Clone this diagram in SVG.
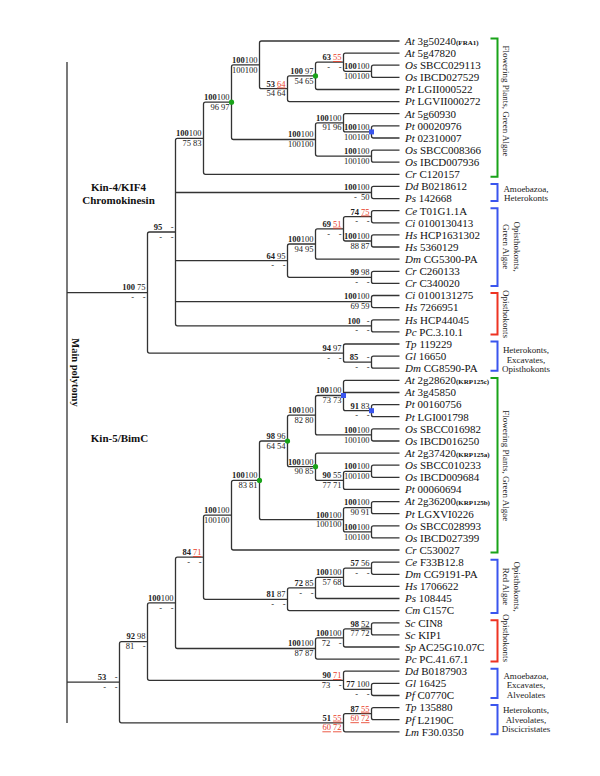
<svg xmlns="http://www.w3.org/2000/svg" width="600" height="776" viewBox="0 0 600 776">
<style>
.br{fill:none;stroke:#333;stroke-width:1.3;stroke-linecap:butt}
.lf{font-family:"Liberation Serif","Times New Roman",serif;font-size:11px;fill:#111}
.g{font-style:italic}
.kb{font-size:7px;font-weight:bold}
.sp{font-family:"Liberation Serif","Times New Roman",serif;font-size:8.5px;fill:#222;text-anchor:end}
.b{font-weight:bold}
.r{fill:#e8402a;text-decoration:underline}
.u{text-decoration:underline}
.cl{font-family:"Liberation Serif","Times New Roman",serif;font-size:9px;fill:#222}
.cm{text-anchor:middle}
.hd{font-family:"Liberation Serif","Times New Roman",serif;font-size:11px;font-weight:bold;fill:#111;text-anchor:middle}
.gn{fill:none;stroke:#19a319;stroke-width:2}
.bl{fill:none;stroke:#3a55ee;stroke-width:2}
.rd{fill:none;stroke:#ee3322;stroke-width:2}
.gd{fill:#19a319}
.bd{fill:#3a55ee}
</style>
<rect width="600" height="776" fill="#fff"/>

<g id="connectors">
<path class="br" d="M67 62V723M67 292.6H147.5M67 682.2H119.5"/>
<path class="br" d="M399.5 65.2H373.5Q371.5 65.2 371.5 67.2V75.4Q371.5 77.4 373.5 77.4H399.5"/>
<path class="br" d="M399.5 53.1H345.5Q343.5 53.1 343.5 55.1V69.3Q343.5 71.3 345.5 71.3H371.5"/>
<path class="br" d="M343.5 62.2H317.5Q315.5 62.2 315.5 64.2V87.5Q315.5 89.5 317.5 89.5H399.5"/>
<path class="br" d="M315.5 75.9H289.5Q287.5 75.9 287.5 77.9V99.6Q287.5 101.6 289.5 101.6H399.5"/>
<path class="br" d="M399.5 41H261.5Q259.5 41 259.5 43V86.7Q259.5 88.7 261.5 88.7H287.5"/>
<path class="br" d="M399.5 125.8H373.5Q371.5 125.8 371.5 127.8V136Q371.5 138 373.5 138H399.5"/>
<path class="br" d="M399.5 113.7H345.5Q343.5 113.7 343.5 115.7V129.9Q343.5 131.9 345.5 131.9H371.5"/>
<path class="br" d="M399.5 150.1H373.5Q371.5 150.1 371.5 152.1V160.2Q371.5 162.2 373.5 162.2H399.5"/>
<path class="br" d="M343.5 122.8H317.5Q315.5 122.8 315.5 124.8V154.1Q315.5 156.1 317.5 156.1H371.5"/>
<path class="br" d="M259.5 64.9H233.5Q231.5 64.9 231.5 66.9V137.5Q231.5 139.5 233.5 139.5H315.5"/>
<path class="br" d="M231.5 102.2H205.5Q203.5 102.2 203.5 104.2V172.3Q203.5 174.3 205.5 174.3H399.5"/>
<path class="br" d="M399.5 186.4H373.5Q371.5 186.4 371.5 188.4V196.6Q371.5 198.6 373.5 198.6H399.5"/>
<path class="br" d="M399.5 210.7H373.5Q371.5 210.7 371.5 212.7V220.8Q371.5 222.8 373.5 222.8H399.5"/>
<path class="br" d="M399.5 234.9H373.5Q371.5 234.9 371.5 236.9V245Q371.5 247 373.5 247H399.5"/>
<path class="br" d="M371.5 216.7H345.5Q343.5 216.7 343.5 218.7V239Q343.5 241 345.5 241H371.5"/>
<path class="br" d="M343.5 228.9H317.5Q315.5 228.9 315.5 230.9V257.2Q315.5 259.2 317.5 259.2H399.5"/>
<path class="br" d="M399.5 271.3H373.5Q371.5 271.3 371.5 273.3V281.4Q371.5 283.4 373.5 283.4H399.5"/>
<path class="br" d="M315.5 244H289.5Q287.5 244 287.5 246V275.3Q287.5 277.3 289.5 277.3H371.5"/>
<path class="br" d="M399.5 295.5H373.5Q371.5 295.5 371.5 297.5V305.6Q371.5 307.6 373.5 307.6H399.5"/>
<path class="br" d="M399.5 319.8H373.5Q371.5 319.8 371.5 321.8V329.9Q371.5 331.9 373.5 331.9H399.5"/>
<path class="br" d="M203.5 138.3H177.5Q175.5 138.3 175.5 140.3V323.8Q175.5 325.8 177.5 325.8H371.5M175.5 192.5H371.5M175.5 260.7H287.5M175.5 301.6H371.5"/>
<path class="br" d="M399.5 356.1H373.5Q371.5 356.1 371.5 358.1V366.2Q371.5 368.2 373.5 368.2H399.5"/>
<path class="br" d="M399.5 344H345.5Q343.5 344 343.5 346V360.2Q343.5 362.2 345.5 362.2H371.5"/>
<path class="br" d="M175.5 232H149.5Q147.5 232 147.5 234V351.1Q147.5 353.1 149.5 353.1H343.5"/>
<path class="br" d="M399.5 380.4H345.5Q343.5 380.4 343.5 382.4V408.7Q343.5 410.7 345.5 410.7H371.5M343.5 392.5H399.5"/>
<path class="br" d="M399.5 404.6H373.5Q371.5 404.6 371.5 406.6V414.7Q371.5 416.7 373.5 416.7H399.5"/>
<path class="br" d="M399.5 428.8H373.5Q371.5 428.8 371.5 430.8V439Q371.5 441 373.5 441H399.5"/>
<path class="br" d="M343.5 395.5H317.5Q315.5 395.5 315.5 397.5V432.9Q315.5 434.9 317.5 434.9H371.5"/>
<path class="br" d="M399.5 465.2H373.5Q371.5 465.2 371.5 467.2V475.3Q371.5 477.3 373.5 477.3H399.5"/>
<path class="br" d="M371.5 471.3H345.5Q343.5 471.3 343.5 473.3V487.4Q343.5 489.4 345.5 489.4H399.5"/>
<path class="br" d="M399.5 453.1H317.5Q315.5 453.1 315.5 455.1V478.4Q315.5 480.4 317.5 480.4H343.5"/>
<path class="br" d="M315.5 415.2H289.5Q287.5 415.2 287.5 417.2V464.7Q287.5 466.7 289.5 466.7H315.5"/>
<path class="br" d="M399.5 501.6H373.5Q371.5 501.6 371.5 503.6V511.7Q371.5 513.7 373.5 513.7H399.5"/>
<path class="br" d="M399.5 525.8H373.5Q371.5 525.8 371.5 527.8V535.9Q371.5 537.9 373.5 537.9H399.5"/>
<path class="br" d="M371.5 507.6H345.5Q343.5 507.6 343.5 509.6V529.9Q343.5 531.9 345.5 531.9H371.5"/>
<path class="br" d="M287.5 441H261.5Q259.5 441 259.5 443V517.7Q259.5 519.7 261.5 519.7H343.5"/>
<path class="br" d="M259.5 480.4H233.5Q231.5 480.4 231.5 482.4V548Q231.5 550 233.5 550H399.5"/>
<path class="br" d="M399.5 562.2H373.5Q371.5 562.2 371.5 564.2V572.3Q371.5 574.3 373.5 574.3H399.5"/>
<path class="br" d="M371.5 568.2H345.5Q343.5 568.2 343.5 570.2V584.4Q343.5 586.4 345.5 586.4H399.5"/>
<path class="br" d="M343.5 577.3H317.5Q315.5 577.3 315.5 579.3V596.5Q315.5 598.5 317.5 598.5H399.5"/>
<path class="br" d="M315.5 587.9H289.5Q287.5 587.9 287.5 589.9V608.6Q287.5 610.6 289.5 610.6H399.5"/>
<path class="br" d="M231.5 515.2H205.5Q203.5 515.2 203.5 517.2V597.3Q203.5 599.3 205.5 599.3H287.5"/>
<path class="br" d="M399.5 622.8H373.5Q371.5 622.8 371.5 624.8V632.9Q371.5 634.9 373.5 634.9H399.5"/>
<path class="br" d="M371.5 628.8H345.5Q343.5 628.8 343.5 630.8V645Q343.5 647 345.5 647H399.5"/>
<path class="br" d="M343.5 637.9H317.5Q315.5 637.9 315.5 639.9V657.1Q315.5 659.1 317.5 659.1H399.5"/>
<path class="br" d="M203.5 557.2H177.5Q175.5 557.2 175.5 559.2V646.5Q175.5 648.5 177.5 648.5H315.5"/>
<path class="br" d="M399.5 683.4H373.5Q371.5 683.4 371.5 685.4V693.5Q371.5 695.5 373.5 695.5H399.5"/>
<path class="br" d="M399.5 671.2H345.5Q343.5 671.2 343.5 673.2V687.4Q343.5 689.4 345.5 689.4H371.5"/>
<path class="br" d="M175.5 602.9H149.5Q147.5 602.9 147.5 604.9V678.3Q147.5 680.3 149.5 680.3H343.5"/>
<path class="br" d="M399.5 707.6H373.5Q371.5 707.6 371.5 709.6V717.7Q371.5 719.7 373.5 719.7H399.5"/>
<path class="br" d="M371.5 713.7H345.5Q343.5 713.7 343.5 715.7V729.8Q343.5 731.8 345.5 731.8H399.5"/>
<path class="br" d="M147.5 641.6H121.5Q119.5 641.6 119.5 643.6V720.8Q119.5 722.8 121.5 722.8H343.5"/>
</g>

<g id="markers">
<circle class="gd" cx="315.5" cy="75.9" r="2.6"/>
<circle class="gd" cx="231.5" cy="102.2" r="2.6"/>
<circle class="gd" cx="287.5" cy="441" r="2.6"/>
<circle class="gd" cx="315.5" cy="466.7" r="2.6"/>
<circle class="gd" cx="259.5" cy="480.4" r="2.6"/>
<rect class="bd" x="369" y="129.4" width="5" height="5"/>
<rect class="bd" x="341" y="393" width="5" height="5"/>
<rect class="bd" x="369" y="408.2" width="5" height="5"/>
</g>

<g id="titles">
<text class="hd" x="118.5" y="191">Kin-4/KIF4</text>
<text class="hd" x="118.5" y="203.5">Chromokinesin</text>
<text class="hd" x="119.5" y="441.5">Kin-5/BimC</text>
<text class="hd" style="font-size:10.5px" transform="translate(71.5 372.5) rotate(90)">Main polytomy</text>
</g>

<g id="support-kin4">
<g id="n1"><text class="sp" x="257.5" y="62.7"><tspan class="b">100</tspan>100</text><text class="sp" x="257.5" y="72.5">100100</text></g>
<g id="n2"><text class="sp" x="285.5" y="86.5"><tspan class="b">53</tspan> <tspan class="r">64</tspan></text><text class="sp" x="285.5" y="96.3">54 64</text></g>
<g id="n3"><text class="sp" x="313.5" y="73.7"><tspan class="b">100</tspan> 97</text><text class="sp" x="313.5" y="83.5">54 65</text></g>
<g id="n4"><text class="sp" x="341.5" y="60"><tspan class="b">63</tspan> <tspan class="r">55</tspan></text><text class="sp" x="341.5" y="69.8" xml:space="preserve">-    -</text></g>
<g id="n5"><text class="sp" x="369.5" y="69.1"><tspan class="b">100</tspan>100</text><text class="sp" x="369.5" y="78.9">100100</text></g>
<g id="nC"><text class="sp" x="341.5" y="120.6"><tspan class="b">100</tspan>100</text><text class="sp" x="341.5" y="130.4">91 96</text></g>
<g id="nPt1"><text class="sp" x="369.5" y="129.7"><tspan class="b">100</tspan>100</text><text class="sp" x="369.5" y="139.5">100100</text></g>
<g id="nD"><text class="sp" x="369.5" y="153.9"><tspan class="b">100</tspan>100</text><text class="sp" x="369.5" y="163.7">100100</text></g>
<g id="n7"><text class="sp" x="313.5" y="137.3"><tspan class="b">100</tspan>100</text><text class="sp" x="313.5" y="147.1">100100</text></g>
<g id="n6"><text class="sp" x="229.5" y="100"><tspan class="b">100</tspan>100</text><text class="sp" x="229.5" y="109.8">96 97</text></g>
<g id="n8"><text class="sp" x="201.5" y="136.1"><tspan class="b">100</tspan>100</text><text class="sp" x="201.5" y="145.9">75 83</text></g>
<g id="nDdPs"><text class="sp" x="369.5" y="190.3"><tspan class="b">100</tspan>100</text><text class="sp" x="369.5" y="200.1" xml:space="preserve">-  50</text></g>
<g id="nCeCi"><text class="sp" x="369.5" y="214.5"><tspan class="b">74</tspan> <tspan class="r">75</tspan></text><text class="sp" x="369.5" y="224.3" xml:space="preserve">-    -</text></g>
<g id="n6951"><text class="sp" x="341.5" y="226.7"><tspan class="b">69</tspan> <tspan class="r">51</tspan></text><text class="sp" x="341.5" y="236.5" xml:space="preserve">-    -</text></g>
<g id="nHs1"><text class="sp" x="369.5" y="238.8"><tspan class="b">100</tspan>100</text><text class="sp" x="369.5" y="248.6">88 87</text></g>
<g id="n9495"><text class="sp" x="313.5" y="241.8"><tspan class="b">100</tspan>100</text><text class="sp" x="313.5" y="251.6">94 95</text></g>
<g id="nCr"><text class="sp" x="369.5" y="275.1"><tspan class="b">99</tspan> 98</text><text class="sp" x="369.5" y="284.9" xml:space="preserve">-    -</text></g>
<g id="n6495"><text class="sp" x="285.5" y="258.5"><tspan class="b">64</tspan> 95</text><text class="sp" x="285.5" y="268.3" xml:space="preserve">-    -</text></g>
<g id="nCiHs"><text class="sp" x="369.5" y="299.4"><tspan class="b">100</tspan>100</text><text class="sp" x="369.5" y="309.2">69 59</text></g>
<g id="nHsPc"><text class="sp" x="369.5" y="323.6" xml:space="preserve"><tspan class="b">100</tspan>   -</text><text class="sp" x="369.5" y="333.4" xml:space="preserve">-    -</text></g>
<g id="n9"><text class="sp" x="173.5" y="229.8" xml:space="preserve"><tspan class="b">95</tspan>    -</text><text class="sp" x="173.5" y="239.6" xml:space="preserve">-    -</text></g>
<g id="nGlDm"><text class="sp" x="369.5" y="360" xml:space="preserve"><tspan class="b">85</tspan>    -</text><text class="sp" x="369.5" y="369.8" xml:space="preserve">-    -</text></g>
<g id="nTp"><text class="sp" x="341.5" y="350.9"><tspan class="b">94</tspan> 97</text><text class="sp" x="341.5" y="360.7" xml:space="preserve">-    -</text></g>
<g id="n10"><text class="sp" x="145.5" y="290.4"><tspan class="b">100</tspan> 75</text><text class="sp" x="145.5" y="300.2" xml:space="preserve">-    -</text></g>
</g>

<g id="support-kin5">
<g id="k1"><text class="sp" x="341.5" y="393.3"><tspan class="b">100</tspan>100</text><text class="sp" x="341.5" y="403.1">73 73</text></g>
<g id="kPt2"><text class="sp" x="369.5" y="408.5"><tspan class="b">91</tspan> 83</text><text class="sp" x="369.5" y="418.3" xml:space="preserve">-    -</text></g>
<g id="kOs1"><text class="sp" x="369.5" y="432.7"><tspan class="b">100</tspan>100</text><text class="sp" x="369.5" y="442.5">100100</text></g>
<g id="k2"><text class="sp" x="313.5" y="413"><tspan class="b">100</tspan>100</text><text class="sp" x="313.5" y="422.8">82 80</text></g>
<g id="kOs2"><text class="sp" x="369.5" y="469.1"><tspan class="b">100</tspan>100</text><text class="sp" x="369.5" y="478.9">100100</text></g>
<g id="k5"><text class="sp" x="341.5" y="478.2"><tspan class="b">90</tspan> 55</text><text class="sp" x="341.5" y="488">77 71</text></g>
<g id="k4"><text class="sp" x="313.5" y="464.5"><tspan class="b">100</tspan>100</text><text class="sp" x="313.5" y="474.3">90 85</text></g>
<g id="k3"><text class="sp" x="285.5" y="438.8"><tspan class="b">98</tspan> 96</text><text class="sp" x="285.5" y="448.6">64 54</text></g>
<g id="kAtPt"><text class="sp" x="369.5" y="505.4"><tspan class="b">100</tspan>100</text><text class="sp" x="369.5" y="515.2">90 91</text></g>
<g id="kOs3"><text class="sp" x="369.5" y="529.7"><tspan class="b">100</tspan>100</text><text class="sp" x="369.5" y="539.5">100100</text></g>
<g id="k7"><text class="sp" x="341.5" y="517.5"><tspan class="b">100</tspan>100</text><text class="sp" x="341.5" y="527.3">100100</text></g>
<g id="k6"><text class="sp" x="257.5" y="478.2"><tspan class="b">100</tspan>100</text><text class="sp" x="257.5" y="488">83 81</text></g>
<g id="k8"><text class="sp" x="229.5" y="513"><tspan class="b">100</tspan>100</text><text class="sp" x="229.5" y="522.8">100100</text></g>
<g id="k13"><text class="sp" x="369.5" y="566"><tspan class="b">57</tspan> 56</text><text class="sp" x="369.5" y="575.8" xml:space="preserve">-    -</text></g>
<g id="k12"><text class="sp" x="341.5" y="575.1"><tspan class="b">100</tspan>100</text><text class="sp" x="341.5" y="584.9">57 68</text></g>
<g id="k11"><text class="sp" x="313.5" y="585.7"><tspan class="b">72</tspan> 85</text><text class="sp" x="313.5" y="595.5" xml:space="preserve">-    -</text></g>
<g id="k10"><text class="sp" x="285.5" y="597.1"><tspan class="b">81</tspan> 87</text><text class="sp" x="285.5" y="606.9" xml:space="preserve">-    -</text></g>
<g id="k9"><text class="sp" x="201.5" y="555"><tspan class="b">84</tspan> <tspan class="r">71</tspan></text><text class="sp" x="201.5" y="564.8" xml:space="preserve">-    -</text></g>
<g id="k17"><text class="sp" x="369.5" y="626.6"><tspan class="b">98</tspan> <tspan class="u">52</tspan></text><text class="sp" x="369.5" y="636.4">77 72</text></g>
<g id="k16"><text class="sp" x="341.5" y="635.7"><tspan class="b">100</tspan>100</text><text class="sp" x="341.5" y="645.5" xml:space="preserve">72    -</text></g>
<g id="k15"><text class="sp" x="313.5" y="646.3"><tspan class="b">100</tspan>100</text><text class="sp" x="313.5" y="656.1">87 87</text></g>
<g id="k14"><text class="sp" x="173.5" y="600.7"><tspan class="b">100</tspan>100</text><text class="sp" x="173.5" y="610.5" xml:space="preserve">-    -</text></g>
<g id="kGlPf"><text class="sp" x="369.5" y="687.2"><tspan class="b">77</tspan> 100</text><text class="sp" x="369.5" y="697" xml:space="preserve">-    -</text></g>
<g id="k19"><text class="sp" x="341.5" y="678.1"><tspan class="b">90</tspan> <tspan class="r">71</tspan></text><text class="sp" x="341.5" y="687.9" xml:space="preserve">73    -</text></g>
<g id="k18"><text class="sp" x="145.5" y="639.4"><tspan class="b">92</tspan> 98</text><text class="sp" x="145.5" y="649.2" xml:space="preserve">81    -</text></g>
<g id="kTpPf"><text class="sp" x="369.5" y="711.5"><tspan class="b">87</tspan> <tspan class="r">55</tspan></text><text class="sp" x="369.5" y="721.3"><tspan class="r">60</tspan> <tspan class="r">72</tspan></text></g>
<g id="k20"><text class="sp" x="341.5" y="720.6"><tspan class="b">51</tspan> <tspan class="r">55</tspan></text><text class="sp" x="341.5" y="730.4"><tspan class="r">60</tspan> <tspan class="r">72</tspan></text></g>
<g id="n20"><text class="sp" x="117.5" y="680" xml:space="preserve"><tspan class="b">53</tspan>    -</text><text class="sp" x="117.5" y="689.8" xml:space="preserve">-    -</text></g>
</g>

<g id="leaves" class="lf">
<g id="L01"><text x="405" y="44.8"><tspan class="g">At</tspan> 3g50240<tspan class="kb">(FRA1)</tspan></text></g>
<g id="L02"><text x="405" y="56.9"><tspan class="g">At</tspan> 5g47820</text></g>
<g id="L03"><text x="405" y="69"><tspan class="g">Os</tspan> SBCC029113</text></g>
<g id="L04"><text x="405" y="81.2"><tspan class="g">Os</tspan> IBCD027529</text></g>
<g id="L05"><text x="405" y="93.3"><tspan class="g">Pt</tspan> LGII000522</text></g>
<g id="L06"><text x="405" y="105.4"><tspan class="g">Pt</tspan> LGVII000272</text></g>
<g id="L07"><text x="405" y="117.5"><tspan class="g">At</tspan> 5g60930</text></g>
<g id="L08"><text x="405" y="129.6"><tspan class="g">Pt</tspan> 00020976</text></g>
<g id="L09"><text x="405" y="141.8"><tspan class="g">Pt</tspan> 02310007</text></g>
<g id="L10"><text x="405" y="153.9"><tspan class="g">Os</tspan> SBCC008366</text></g>
<g id="L11"><text x="405" y="166"><tspan class="g">Os</tspan> IBCD007936</text></g>
<g id="L12"><text x="405" y="178.1"><tspan class="g">Cr</tspan> C120157</text></g>
<g id="L13"><text x="405" y="190.2"><tspan class="g">Dd</tspan> B0218612</text></g>
<g id="L14"><text x="405" y="202.4"><tspan class="g">Ps</tspan> 142668</text></g>
<g id="L15"><text x="405" y="214.5"><tspan class="g">Ce</tspan> T01G1.1A</text></g>
<g id="L16"><text x="405" y="226.6"><tspan class="g">Ci</tspan> 0100130413</text></g>
<g id="L17"><text x="405" y="238.7"><tspan class="g">Hs</tspan> HCP1631302</text></g>
<g id="L18"><text x="405" y="250.8"><tspan class="g">Hs</tspan> 5360129</text></g>
<g id="L19"><text x="405" y="263"><tspan class="g">Dm</tspan> CG5300-PA</text></g>
<g id="L20"><text x="405" y="275.1"><tspan class="g">Cr</tspan> C260133</text></g>
<g id="L21"><text x="405" y="287.2"><tspan class="g">Cr</tspan> C340020</text></g>
<g id="L22"><text x="405" y="299.3"><tspan class="g">Ci</tspan> 0100131275</text></g>
<g id="L23"><text x="405" y="311.4"><tspan class="g">Hs</tspan> 7266951</text></g>
<g id="L24"><text x="405" y="323.6"><tspan class="g">Hs</tspan> HCP44045</text></g>
<g id="L25"><text x="405" y="335.7"><tspan class="g">Pc</tspan> PC.3.10.1</text></g>
<g id="L26"><text x="405" y="347.8"><tspan class="g">Tp</tspan> 119229</text></g>
<g id="L27"><text x="405" y="359.9"><tspan class="g">Gl</tspan> 16650</text></g>
<g id="L28"><text x="405" y="372"><tspan class="g">Dm</tspan> CG8590-PA</text></g>
<g id="L29"><text x="405" y="384.2"><tspan class="g">At</tspan> 2g28620<tspan class="kb">(KRP125c)</tspan></text></g>
<g id="L30"><text x="405" y="396.3"><tspan class="g">At</tspan> 3g45850</text></g>
<g id="L31"><text x="405" y="408.4"><tspan class="g">Pt</tspan> 00160756</text></g>
<g id="L32"><text x="405" y="420.5"><tspan class="g">Pt</tspan> LGI001798</text></g>
<g id="L33"><text x="405" y="432.6"><tspan class="g">Os</tspan> SBCC016982</text></g>
<g id="L34"><text x="405" y="444.8"><tspan class="g">Os</tspan> IBCD016250</text></g>
<g id="L35"><text x="405" y="456.9"><tspan class="g">At</tspan> 2g37420<tspan class="kb">(KRP125a)</tspan></text></g>
<g id="L36"><text x="405" y="469"><tspan class="g">Os</tspan> SBCC010233</text></g>
<g id="L37"><text x="405" y="481.1"><tspan class="g">Os</tspan> IBCD009684</text></g>
<g id="L38"><text x="405" y="493.2"><tspan class="g">Pt</tspan> 00060694</text></g>
<g id="L39"><text x="405" y="505.4"><tspan class="g">At</tspan> 2g36200<tspan class="kb">(KRP125b)</tspan></text></g>
<g id="L40"><text x="405" y="517.5"><tspan class="g">Pt</tspan> LGXVI0226</text></g>
<g id="L41"><text x="405" y="529.6"><tspan class="g">Os</tspan> SBCC028993</text></g>
<g id="L42"><text x="405" y="541.7"><tspan class="g">Os</tspan> IBCD027399</text></g>
<g id="L43"><text x="405" y="553.8"><tspan class="g">Cr</tspan> C530027</text></g>
<g id="L44"><text x="405" y="566"><tspan class="g">Ce</tspan> F33B12.8</text></g>
<g id="L45"><text x="405" y="578.1"><tspan class="g">Dm</tspan> CG9191-PA</text></g>
<g id="L46"><text x="405" y="590.2"><tspan class="g">Hs</tspan> 1706622</text></g>
<g id="L47"><text x="405" y="602.3"><tspan class="g">Ps</tspan> 108445</text></g>
<g id="L48"><text x="405" y="614.4"><tspan class="g">Cm</tspan> C157C</text></g>
<g id="L49"><text x="405" y="626.6"><tspan class="g">Sc</tspan> CIN8</text></g>
<g id="L50"><text x="405" y="638.7"><tspan class="g">Sc</tspan> KIP1</text></g>
<g id="L51"><text x="405" y="650.8"><tspan class="g">Sp</tspan> AC25G10.07C</text></g>
<g id="L52"><text x="405" y="662.9"><tspan class="g">Pc</tspan> PC.41.67.1</text></g>
<g id="L53"><text x="405" y="675"><tspan class="g">Dd</tspan> B0187903</text></g>
<g id="L54"><text x="405" y="687.2"><tspan class="g">Gl</tspan> 16425</text></g>
<g id="L55"><text x="405" y="699.3"><tspan class="g">Pf</tspan> C0770C</text></g>
<g id="L56"><text x="405" y="711.4"><tspan class="g">Tp</tspan> 135880</text></g>
<g id="L57"><text x="405" y="723.5"><tspan class="g">Pf</tspan> L2190C</text></g>
<g id="L58"><text x="405" y="735.6"><tspan class="g">Lm</tspan> F30.0350</text></g>
</g>

<g id="groups">
<g id="grp1"><path class="gn" d="M490.5 38.5H497.5V176.8H490.5"/><text class="cl cm" transform="translate(502.5 101) rotate(90)">Flowering Plants, Green Algae</text></g>
<g id="grp2"><path class="bl" d="M490.5 183.9H497.5V201.1H490.5"/><text class="cl cm" x="526" y="191.9">Amoebazoa,</text><text class="cl cm" x="526" y="201.2">Heterokonts</text></g>
<g id="grp3"><path class="bl" d="M490.5 208.2H497.5V285.9H490.5"/><text class="cl cm" transform="translate(513.5 246.7) rotate(90)">Opisthokonts,</text><text class="cl cm" transform="translate(502.5 246.7) rotate(90)">Green Algae</text></g>
<g id="grp4"><path class="rd" d="M490.5 293H497.5V334.4H490.5"/><text class="cl cm" transform="translate(502.5 314) rotate(90)">Opisthokonts</text></g>
<g id="grp5"><path class="bl" d="M490.5 341.5H497.5V370.7H490.5"/><text class="cl cm" x="526" y="353.2">Heterokonts,</text><text class="cl cm" x="526" y="362.5">Excavates,</text><text class="cl cm" x="526" y="371.8">Opisthokonts</text></g>
<g id="grp6"><path class="gn" d="M490.5 377.9H497.5V552.5H490.5"/><text class="cl cm" transform="translate(502.5 465.8) rotate(90)">Flowering Plants, Green Algae</text></g>
<g id="grp7"><path class="bl" d="M490.5 559.7H497.5V613.1H490.5"/><text class="cl cm" transform="translate(513.5 586.5) rotate(90)">Opisthokonts,</text><text class="cl cm" transform="translate(502.5 586.5) rotate(90)">Red Algae</text></g>
<g id="grp8"><path class="rd" d="M490.5 620.3H497.5V661.6H490.5"/><text class="cl cm" transform="translate(502.5 638) rotate(90)">Opisthokonts</text></g>
<g id="grp9"><path class="bl" d="M490.5 668.7H497.5V698H490.5"/><text class="cl cm" x="526" y="679">Amoebazoa,</text><text class="cl cm" x="526" y="688.3">Excavates,</text><text class="cl cm" x="526" y="697.6">Alveolates</text></g>
<g id="grp10"><path class="bl" d="M490.5 705.1H497.5V734.3H490.5"/><text class="cl cm" x="526" y="713.2">Heterokonts,</text><text class="cl cm" x="526" y="722.5">Alveolates,</text><text class="cl cm" x="526" y="731.8">Discicristates</text></g>
</g>
</svg>
